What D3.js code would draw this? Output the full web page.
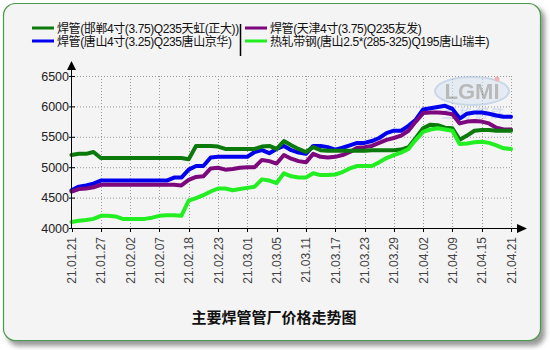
<!DOCTYPE html>
<html>
<head>
<meta charset="utf-8">
<script src="https://cdn.jsdelivr.net/npm/d3@7"></script>
<style>
  body { margin: 0; background: #fff; }
  text { font-family: "Liberation Sans", Arial, "Noto Sans CJK SC", sans-serif; }
</style>
</head>
<body>
<div id="chart"></div>
<script>
// trading days 21.01.21 .. 21.04.21
var dates = ["21.01.21","21.01.22","21.01.25","21.01.26","21.01.27","21.01.28","21.01.29",
  "21.02.01","21.02.02","21.02.03","21.02.04","21.02.05","21.02.07","21.02.08","21.02.09","21.02.10",
  "21.02.18","21.02.19","21.02.20","21.02.22","21.02.23","21.02.24","21.02.25","21.02.26",
  "21.03.01","21.03.02","21.03.03","21.03.04","21.03.05","21.03.08","21.03.09","21.03.10","21.03.11",
  "21.03.12","21.03.15","21.03.16","21.03.17","21.03.18","21.03.19","21.03.22","21.03.23",
  "21.03.24","21.03.25","21.03.26","21.03.29","21.03.30","21.03.31","21.04.01","21.04.02",
  "21.04.06","21.04.07","21.04.08","21.04.09","21.04.12","21.04.13","21.04.14","21.04.15",
  "21.04.16","21.04.19","21.04.20","21.04.21"];

var tickDates = ["21.01.21","21.01.27","21.02.02","21.02.07","21.02.18","21.02.23","21.03.01",
  "21.03.05","21.03.11","21.03.17","21.03.23","21.03.29","21.04.02","21.04.09","21.04.15","21.04.21"];

var yTicks = [4000, 4500, 5000, 5500, 6000, 6500];

var seriesNames = ["焊管(邯郸4寸(3.75)Q235天虹(正大))", "焊管(唐山4寸(3.25)Q235唐山京华)",
  "焊管(天津4寸(3.75)Q235友发)", "热轧带钢(唐山2.5*(285-325)Q195唐山瑞丰)"];

var handan = [5200,5220,5220,5250,5150,5150,5150,5150,5150,5150,5150,5150,5150,5150,5150,5150,
  5130,5350,5350,5350,5340,5300,5300,5300,5300,5300,5340,5350,5300,5430,5360,5300,5250,
  5330,5280,5270,5270,5270,5270,5270,5270,5280,5280,5280,5280,5290,5330,5480,5640,
  5700,5690,5650,5640,5450,5520,5600,5610,5610,5600,5600,5600];

var tangshan = [4620,4680,4700,4730,4780,4780,4780,4780,4780,4780,4780,4780,4780,4780,4830,4830,
  4960,5020,5020,5160,5170,5170,5170,5170,5170,5250,5280,5230,5300,5350,5280,5240,5220,
  5350,5350,5330,5290,5320,5360,5400,5400,5430,5480,5560,5600,5600,5680,5780,5950,
  5970,5990,6010,5960,5800,5880,5900,5900,5880,5850,5830,5830];

var tianjin = [4600,4640,4650,4670,4710,4710,4710,4710,4710,4710,4710,4710,4710,4710,4710,4700,
  4790,4840,4850,4980,4990,4960,4970,4990,5000,5000,5120,5100,5060,5200,5140,5100,5080,
  5220,5170,5160,5170,5200,5250,5320,5330,5350,5400,5450,5480,5520,5600,5750,5890,
  5900,5900,5890,5870,5720,5750,5760,5750,5720,5650,5620,5620];

var strip = [4100,4120,4130,4150,4200,4200,4190,4150,4150,4150,4150,4170,4200,4210,4210,4200,
  4450,4490,4540,4600,4650,4650,4620,4640,4660,4680,4800,4780,4740,4900,4850,4830,4830,
  4900,4870,4870,4880,4920,4980,5020,5020,5020,5080,5150,5200,5240,5300,5450,5580,
  5620,5640,5620,5600,5380,5390,5410,5420,5400,5360,5310,5300];

var colors = ["#0b7a0b", "#0000ee", "#7d077d", "#22ee22"];

var width = 550, height = 350;
var svg = d3.select("#chart").append("svg")
  .attr("width", width)
  .attr("height", height);

// shadow + frame
var defs = svg.append("defs");
defs.append("filter").attr("id", "blur")
  .append("feGaussianBlur").attr("stdDeviation", 2.5);

svg.append("rect")
  .attr("x", 7).attr("y", 7).attr("width", 538).attr("height", 339)
  .attr("rx", 12)
  .style("fill", "#999")
  .attr("filter", "url(#blur)");

svg.append("rect")
  .attr("x", 3.5).attr("y", 3.5).attr("width", 537).attr("height", 337)
  .attr("rx", 12)
  .style("fill", "#f4f4f4")
  .style("stroke", "#4a9a4a")
  .style("stroke-width", 1.2);

var x = d3.scalePoint()
  .domain(dates)
  .range([71.5, 511]);

var y = d3.scaleLinear()
  .domain([4000, 6500])
  .range([228, 76]);

// grid
svg.append("g")
  .selectAll("line")
  .data(yTicks.slice(1))
  .enter()
  .append("line")
  .attr("x1", 71).attr("x2", 511)
  .attr("y1", function (d) { return y(d) + 0.5; })
  .attr("y2", function (d) { return y(d) + 0.5; })
  .style("stroke", "#999")
  .style("stroke-dasharray", "1,2");

svg.append("g")
  .selectAll("line")
  .data(tickDates.slice(1))
  .enter()
  .append("line")
  .attr("x1", function (d) { return Math.round(x(d)) + 0.5; })
  .attr("x2", function (d) { return Math.round(x(d)) + 0.5; })
  .attr("y1", 76).attr("y2", 228)
  .style("stroke", "#999")
  .style("stroke-dasharray", "1,2");

// watermark
var wm = svg.append("g").style("opacity", 0.55);
wm.append("ellipse")
  .attr("cx", 472).attr("cy", 91).attr("rx", 37).attr("ry", 14)
  .style("fill", "#d8e4f2").style("stroke", "#a9c0e0").style("stroke-width", 2);
wm.append("text")
  .attr("x", 472).attr("y", 99)
  .attr("text-anchor", "middle")
  .style("font-size", "22px")
  .style("font-weight", "bold")
  .style("fill", "#8a8a8a")
  .text("LGMI");
wm.append("circle")
  .attr("cx", 497).attr("cy", 79).attr("r", 2.5)
  .style("fill", "#f08080");
wm.append("text")
  .attr("x", 472).attr("y", 118)
  .attr("text-anchor", "middle")
  .style("font-size", "13px")
  .style("font-style", "italic")
  .style("fill", "#a9c0e0")
  .style("font-family", "Noto Sans CJK SC")
  .text("兰 格 钢 铁");

// lines
var line = d3.line()
  .x(function (d, i) { return x(dates[i]); })
  .y(function (d) { return y(d); });

var drawOrder = [
  { data: tangshan, color: colors[1] },
  { data: tianjin, color: colors[2] },
  { data: handan, color: colors[0] },
  { data: strip, color: colors[3] }
];

svg.append("g")
  .selectAll("path")
  .data(drawOrder)
  .enter()
  .append("path")
  .attr("d", function (d) { return line(d.data); })
  .style("fill", "none")
  .style("stroke", function (d) { return d.color; })
  .style("stroke-width", 4)
  .style("stroke-linejoin", "round")
  .style("stroke-linecap", "round");

// axes
svg.append("line")
  .attr("x1", 71.5).attr("x2", 71.5).attr("y1", 228).attr("y2", 68)
  .style("stroke", "#000");
svg.append("path")
  .attr("d", "M71.5,61 L67,70 L76,70 Z")
  .style("fill", "#000");

svg.append("line")
  .attr("x1", 71).attr("x2", 518).attr("y1", 228.5).attr("y2", 228.5)
  .style("stroke", "#000");
svg.append("path")
  .attr("d", "M527,228.5 L517,224 L517,233 Z")
  .style("fill", "#000");

svg.append("g")
  .selectAll("line")
  .data(tickDates)
  .enter()
  .append("line")
  .attr("x1", function (d) { return Math.round(x(d)) + 0.5; })
  .attr("x2", function (d) { return Math.round(x(d)) + 0.5; })
  .attr("y1", 228).attr("y2", 232)
  .style("stroke", "#000");

svg.append("g")
  .selectAll("line")
  .data(yTicks)
  .enter()
  .append("line")
  .attr("x1", 69).attr("x2", 75)
  .attr("y1", function (d) { return y(d) + 0.5; })
  .attr("y2", function (d) { return y(d) + 0.5; })
  .style("stroke", "#000");

svg.append("g")
  .selectAll("text")
  .data(yTicks)
  .enter()
  .append("text")
  .attr("x", 69)
  .attr("y", function (d) { return y(d) + 4.5; })
  .attr("text-anchor", "end")
  .style("font-size", "12.5px")
  .style("fill", "#222")
  .text(function (d) { return d; });

svg.append("g")
  .selectAll("text")
  .data(tickDates)
  .enter()
  .append("text")
  .attr("transform", function (d) {
    return "translate(" + (x(d) + 4.5) + ",237) rotate(-90)";
  })
  .attr("text-anchor", "end")
  .style("font-size", "12px")
  .style("fill", "#444")
  .text(function (d) { return d; });

// title
svg.append("text")
  .attr("x", 274)
  .attr("y", 323)
  .attr("text-anchor", "middle")
  .style("font-size", "15px")
  .style("font-weight", "bold")
  .style("font-family", "Noto Sans CJK SC")
  .style("fill", "#111")
  .text("主要焊管管厂价格走势图");

// legend
var legendItems = [
  { name: seriesNames[0], color: colors[0], lx: 32, ly: 28 },
  { name: seriesNames[1], color: colors[1], lx: 32, ly: 41 },
  { name: seriesNames[2], color: colors[2], lx: 245, ly: 28 },
  { name: seriesNames[3], color: colors[3], lx: 245, ly: 41 }
];

var legend = svg.append("g");
legend.selectAll("line")
  .data(legendItems)
  .enter()
  .append("line")
  .attr("x1", function (d) { return d.lx; })
  .attr("x2", function (d) { return d.lx + 22; })
  .attr("y1", function (d) { return d.ly; })
  .attr("y2", function (d) { return d.ly; })
  .style("stroke", function (d) { return d.color; })
  .style("stroke-width", 3);

legend.selectAll("text")
  .data(legendItems)
  .enter()
  .append("text")
  .attr("x", function (d) { return d.lx + 25; })
  .attr("y", function (d) { return d.ly + 4.5; })
  .style("font-size", "12px")
  .style("fill", "#111")
  .style("letter-spacing", "-0.4px")
  .text(function (d) { return d.name; });

svg.append("line")
  .attr("x1", 240.5).attr("x2", 240.5).attr("y1", 24).attr("y2", 56)
  .style("stroke", "#000")
  .style("stroke-width", 1.5);
</script>
</body>
</html>
